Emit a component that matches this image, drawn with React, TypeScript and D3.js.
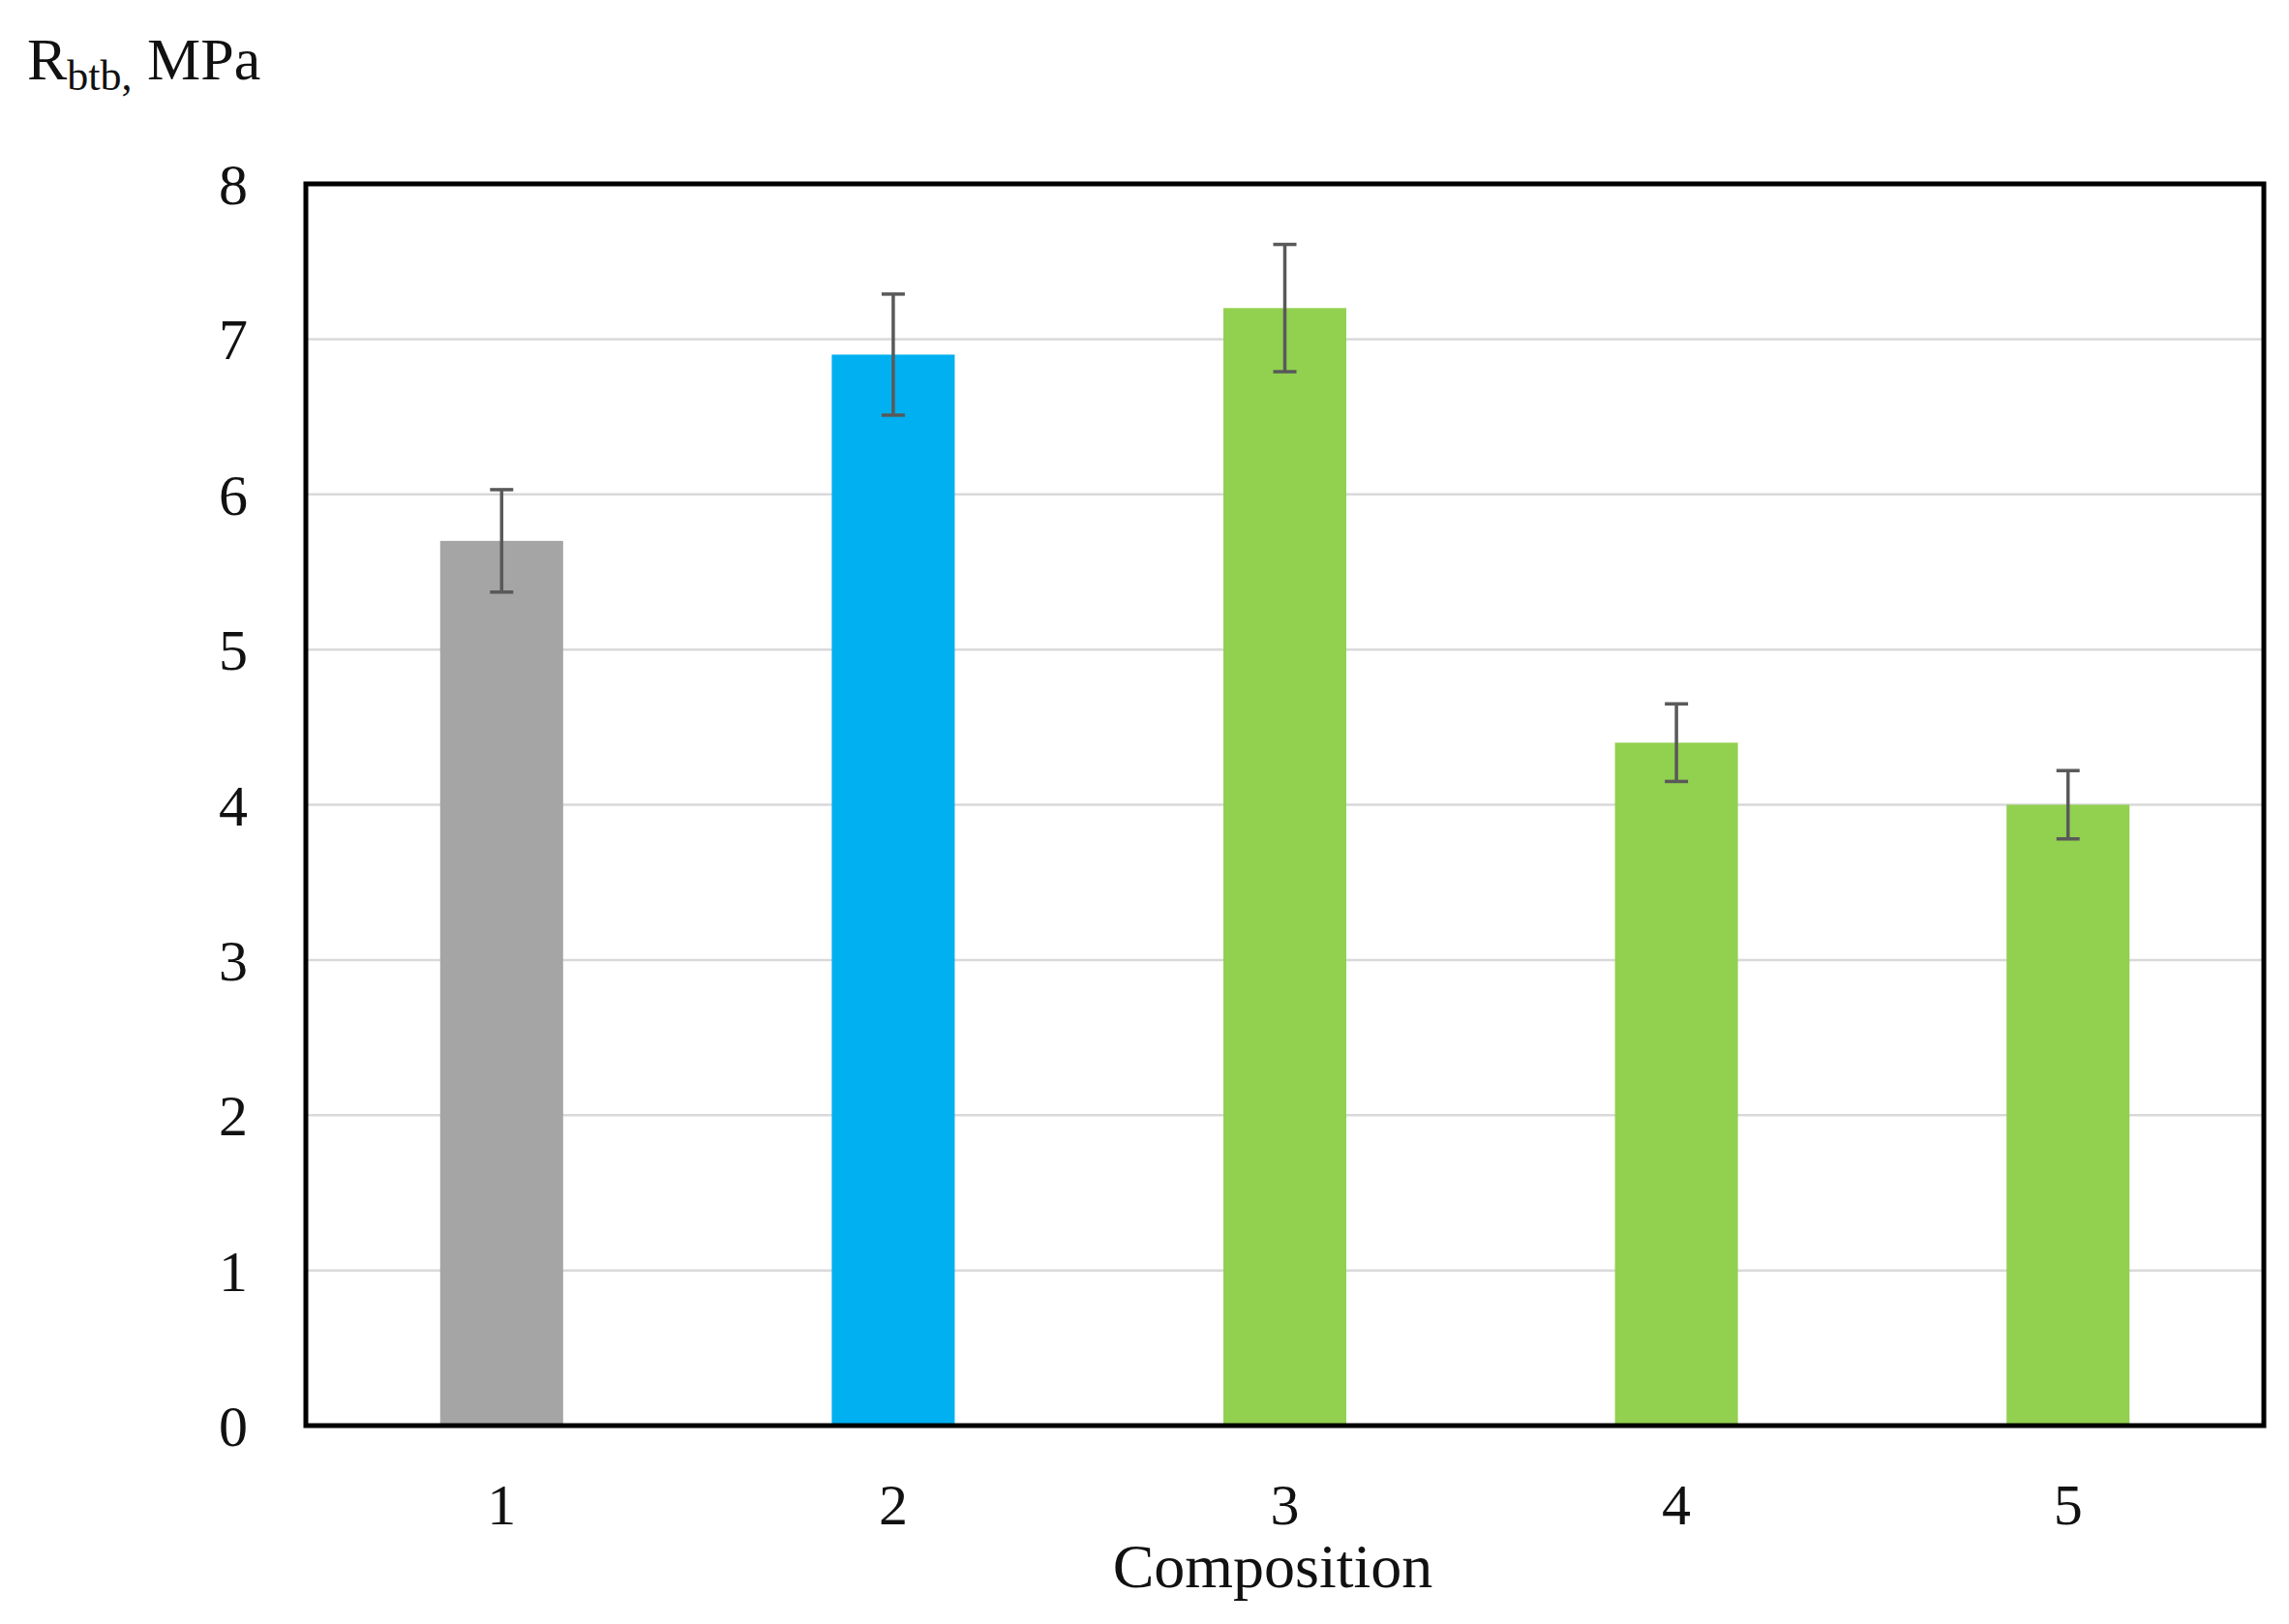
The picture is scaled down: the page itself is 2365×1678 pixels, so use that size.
import React from "react";
import * as d3 from "d3";

const categories = ["1", "2", "3", "4", "5"];
const values = [5.7, 6.9, 7.2, 4.4, 4.0];
const errors = [0.33, 0.39, 0.41, 0.25, 0.22];
const colors = ["#A5A5A5", "#00B0F0", "#92D050", "#92D050", "#92D050"];
const yTicks = [0, 1, 2, 3, 4, 5, 6, 7, 8];

const W = 2365;
const H = 1678;
const M = { left: 316, right: 2339, top: 190, bottom: 1473 };
const FONT = "'Liberation Serif', 'Times New Roman', serif";

export default function App() {
  const x = d3
    .scaleBand<string>()
    .domain(categories)
    .range([M.left, M.right])
    .paddingInner(0.686)
    .paddingOuter(0.343);
  const y = d3.scaleLinear().domain([0, 8]).range([M.bottom, M.top]);
  const bw = x.bandwidth();
  const cap = 12;

  return (
    <svg
      width={W}
      height={H}
      style={{ position: "absolute", left: 0, top: 0, background: "#fff" }}
      fontFamily={FONT}
    >
      <rect x={0} y={0} width={W} height={H} fill="#fff" />
      {yTicks
        .filter((t) => t > 0 && t < 8)
        .map((t) => (
          <line
            key={"g" + t}
            x1={M.left}
            x2={M.right}
            y1={y(t)}
            y2={y(t)}
            stroke="#D9D9D9"
            strokeWidth={2.5}
          />
        ))}
      {categories.map((c, i) => (
        <rect
          key={"b" + c}
          x={x(c)!}
          y={y(values[i])}
          width={bw}
          height={y(0) - y(values[i])}
          fill={colors[i]}
        />
      ))}
      {categories.map((c, i) => {
        const cx = x(c)! + bw / 2;
        const hi = y(values[i] + errors[i]);
        const lo = y(values[i] - errors[i]);
        return (
          <g key={"e" + c} stroke="#595959" strokeWidth={3.5}>
            <line x1={cx} x2={cx} y1={hi} y2={lo} />
            <line x1={cx - cap} x2={cx + cap} y1={hi} y2={hi} />
            <line x1={cx - cap} x2={cx + cap} y1={lo} y2={lo} />
          </g>
        );
      })}
      <rect
        x={M.left}
        y={M.top}
        width={M.right - M.left}
        height={M.bottom - M.top}
        fill="none"
        stroke="#000"
        strokeWidth={5}
      />
      {yTicks.map((t) => (
        <text
          key={"yt" + t}
          x={241}
          y={y(t)}
          dy="0.35em"
          textAnchor="middle"
          fontSize={60}
          fill="#111"
        >
          {t}
        </text>
      ))}
      {categories.map((c) => (
        <text
          key={"xt" + c}
          x={x(c)! + bw / 2}
          y={1575}
          textAnchor="middle"
          fontSize={60}
          fill="#111"
        >
          {c}
        </text>
      ))}
      <text x={1315} y={1640} textAnchor="middle" fontSize={64} fill="#111">
        Composition
      </text>
      <text x={28} y={82} fontSize={62} fill="#111">
        R
        <tspan fontSize={44} dy={11}>
          btb,
        </tspan>
        <tspan dy={-11}> MPa</tspan>
      </text>
    </svg>
  );
}
